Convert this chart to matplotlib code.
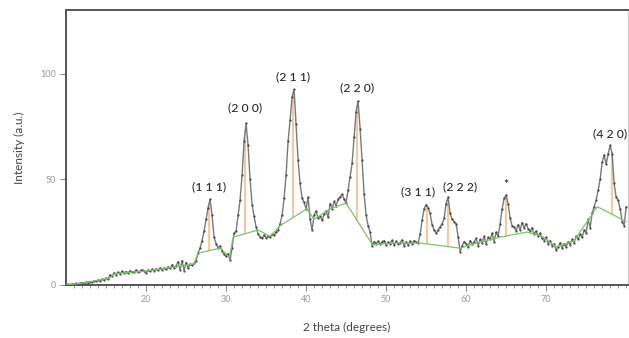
import numpy as np
import matplotlib
matplotlib.use("Agg")
import matplotlib.pyplot as plt

plt.rcParams["font.family"] = ["Lato", "DejaVu Sans"]

# measured pattern, 2 theta from 10 to 80 in 0.25 degree steps
two_theta = np.arange(10, 80.001, 0.25)
intensity = [
    0.0, 0.3, 0.1, 0.5, 0.4, 0.7, 0.5, 0.9, 1.0, 0.8, 1.3, 1.1, 1.6, 1.4, 1.9, 1.7, 2.3, 2.0, 2.8, 2.5,
    3.2, 2.9, 4.8, 4.1, 5.8, 4.9, 6.0, 5.2, 6.4, 5.5, 6.3, 5.6, 6.8, 6.0, 6.2, 7.0, 6.1, 6.6, 7.3, 6.5,
    5.7, 7.1, 6.4, 7.5, 6.8, 7.6, 7.0, 8.1, 7.3, 8.0, 7.4, 8.5, 7.8, 9.6, 8.2, 9.0, 11.0, 7.2, 11.5, 6.8,
    10.6, 8.0, 9.9, 9.3, 10.2, 11.5, 15.0, 17.5, 21.0, 25.5, 31.0, 36.5, 40.5, 33.0, 22.5, 19.5, 17.5, 18.5, 16.0, 14.5,
    13.5, 14.8, 11.8, 17.5, 24.5, 25.5, 33.0, 40.0, 52.0, 68.0, 76.5, 66.0, 50.0, 38.0, 32.5, 27.5, 24.0, 22.8, 22.0, 23.5,
    22.3, 23.0, 22.5, 24.0, 23.5, 25.0, 26.0, 29.0, 33.0, 41.0, 52.0, 68.0, 78.0, 89.0, 92.5, 76.0, 59.0, 48.0, 41.0, 39.0,
    36.0, 41.5, 31.0, 26.0, 33.0, 35.0, 31.5, 32.5, 30.5, 33.5, 35.0, 32.0, 38.5, 36.0, 39.5, 37.5, 40.5, 41.7, 43.0, 40.5,
    38.7, 45.0, 51.0, 57.5, 70.0, 82.0, 87.0, 74.0, 59.0, 43.0, 33.0, 28.0, 25.0, 18.5, 20.5, 19.5, 20.8, 19.2, 20.5, 21.0,
    19.0, 20.3, 19.5, 21.2, 18.8, 20.6, 19.3, 20.0, 21.3, 18.5, 20.4, 19.0, 20.7, 19.4, 21.0, 20.2, 19.8, 24.0, 30.6, 36.0,
    38.0, 36.5, 33.8, 28.5, 26.0, 24.5, 26.0, 27.5, 29.0, 31.5, 38.5, 41.5, 33.8, 31.0, 30.0, 29.0, 22.8, 15.7, 18.5, 20.5,
    19.6, 18.0, 21.0, 19.2, 20.5, 22.0, 18.5, 21.5, 20.0, 23.0, 19.5, 22.5, 21.5, 24.5, 20.5, 25.0, 23.0, 29.0, 36.0, 41.0,
    42.5, 38.5, 31.5, 28.0, 27.5, 25.5, 28.5, 26.0, 29.5, 27.0, 29.0, 26.5, 25.5, 27.0, 24.0, 25.5, 23.0, 24.5, 22.0, 21.0,
    22.5, 19.5, 21.0, 18.5, 19.5, 16.5, 18.0, 20.0, 17.5, 19.5, 18.0, 20.5, 19.0, 21.5, 20.0, 23.0, 21.5, 24.0, 22.5, 26.0,
    24.5, 31.0, 27.0, 34.0, 37.0, 40.0, 44.8, 50.0, 58.0, 61.5, 57.0, 62.0, 66.0, 62.0, 48.0, 41.5, 40.0, 36.0, 30.0, 28.0,
    37.0,
]

# fitted background
bg_theta = [10, 12, 14, 15.5, 16, 18, 20, 22, 24, 26, 26.5, 29.3, 30.4, 30.9, 34, 35.5,
            36.75, 40.1, 41, 43, 45.0, 48.3, 51, 54.25, 59.25, 61, 64.25, 67.6, 69.5,
            71.3, 73.5, 76.4, 80]
bg_int = [0, 0.8, 2.2, 3.3, 5.2, 6.0, 6.6, 7.6, 8.8, 10, 15, 17.5, 13, 22.6, 26, 23,
          28, 36, 31, 36, 38.7, 19, 19.8, 19.8, 17.4, 19.5, 22.6, 25, 23,
          18, 21, 37, 30]

# indexed peaks
peak_theta = [27.9, 32.4, 38.4, 46.4, 55.1, 57.7, 65.0, 78.2]
peak_labels = ["(1 1 1)", "(2 0 0)", "(2 1 1)", "(2 2 0)", "(3 1 1)", "(2 2 2)", "*", "(4 2 0)"]
label_pos = [(27.9, 46.5), (32.4, 84), (38.4, 98.5), (46.4, 93.5),
             (54.0, 44), (59.2, 46.5), (65.0, 47.5), (78.0, 71.5)]

fig = plt.figure(figsize=(6.29, 3.38), dpi=100)
ax = fig.add_axes([0.105, 0.157, 0.893, 0.813])

bg_at_peak = np.interp(peak_theta, bg_theta, bg_int)
top_at_peak = np.interp(peak_theta, two_theta, intensity)
ax.vlines(peak_theta, bg_at_peak, top_at_peak, color="#f4c39a", lw=1.6, alpha=0.9, zorder=1)

ax.plot(two_theta, intensity, color="#7a7a7a", lw=1.0, zorder=2)
ax.plot(two_theta, intensity, ls="none", marker="o", ms=0.6, color="#444444", zorder=3)
ax.plot(bg_theta, bg_int, color="#7cc46a", lw=0.9, zorder=4)

for lab, (lx, ly) in zip(peak_labels, label_pos):
    ax.text(lx, ly, lab, ha="center", va="center", fontsize=8.8, color="#2a2a2a",
            fontweight="medium")

ax.set_xlim(10, 80.2)
ax.set_ylim(0, 130)
ax.set_xticks([20, 30, 40, 50, 60, 70])
ax.set_xticks(np.arange(11, 81, 1), minor=True)
ax.set_yticks([0, 50, 100])
ax.tick_params(axis="both", which="major", labelsize=6.5, labelcolor="#999999",
               color="#888888", length=4, width=0.8)
ax.tick_params(axis="x", which="minor", color="#888888", length=2, width=0.6)

ax.set_xlabel("2 theta (degrees)", fontsize=8.5, color="#444444", labelpad=13)
ax.set_ylabel("Intensity (a.u.)", fontsize=8.5, color="#444444", labelpad=11)

for side in ["left", "top", "bottom"]:
    ax.spines[side].set_color("#555555")
    ax.spines[side].set_linewidth(1.4)
ax.spines["right"].set_color("#cccccc")
ax.spines["right"].set_linewidth(0.8)

fig.savefig("out.png", dpi=100)
